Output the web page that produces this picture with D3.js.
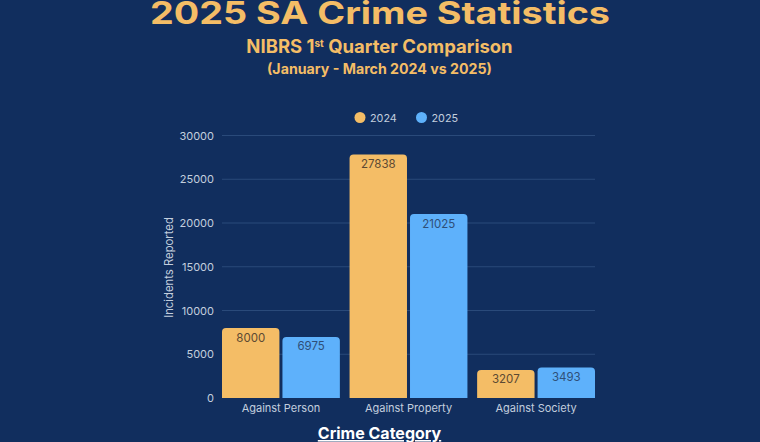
<!DOCTYPE html>
<html lang="en">
    <head>
        <meta charset="utf-8">
        <title>2025 SA Crime Statistics</title>
        <script src="https://cdn.jsdelivr.net/npm/d3@7"></script>
        <style>
            html, body { margin: 0; padding: 0; background: #112e5e; overflow: hidden; }
            svg { display: block; }
            text { font-family: Inter, "Noto Sans", sans-serif; }
            .axis path { display: none; }
            .axis line { stroke: none; }
            .axis text { fill: #c3cede; font-size: 11px; }
        </style>
    </head>
    <body>
        <script>
            var w = 760;
            var h = 442;

            var categories = ["Against Person", "Against Property", "Against Society"];
            var years = ["2024", "2025"];
            var values2024 = [8000, 27838, 3207];
            var values2025 = [6975, 21025, 3493];
            var yTicks = [0, 5000, 10000, 15000, 20000, 25000, 30000];

            var gold = "#f4bd66";
            var blue = "#5eb1fb";
            var barColors = d3.scaleOrdinal().domain(years).range([gold, blue]);

            var svg = d3.select("body").append("svg").attr("width", w).attr("height", h);

            // Headings
            svg.append("text").attr("x", 380).attr("y", 23.5).attr("text-anchor", "middle")
               .attr("fill", gold).attr("font-size", 31).attr("font-weight", 700)
               .attr("textLength", 460).attr("lengthAdjust", "spacingAndGlyphs")
               .text("2025 SA Crime Statistics");

            var sub = svg.append("text").attr("x", 379.5).attr("y", 52.5).attr("text-anchor", "middle")
               .attr("fill", gold).attr("font-size", 18.5).attr("font-weight", 700);
            sub.append("tspan").text("NIBRS 1");
            sub.append("tspan").attr("dy", -6).attr("font-size", 10).text("st");
            sub.append("tspan").attr("dy", 6).text(" Quarter Comparison");

            svg.append("text").attr("x", 379.5).attr("y", 73.5).attr("text-anchor", "middle")
               .attr("fill", gold).attr("font-size", 14.2).attr("font-weight", 700)
               .text("(January - March 2024 vs 2025)");

            // Scales
            var x0 = d3.scaleBand().domain(categories).range([222, 595]).paddingInner(0.076);
            var x1 = d3.scaleBand().domain(years).range([0, x0.bandwidth()]).paddingInner(0.05);
            var y = d3.scaleLinear().domain([0, 30000]).range([398, 135.5]);

            // Gridlines
            svg.append("g").selectAll("line").data(yTicks.slice(1)).enter().append("line")
               .attr("x1", 222).attr("x2", 595)
               .attr("y1", function (d) { return y(d); })
               .attr("y2", function (d) { return y(d); })
               .attr("stroke", "#2a4a7a").attr("stroke-width", 1);

            // Axes
            svg.append("g").attr("class", "axis").attr("transform", "translate(222,0)")
               .call(d3.axisLeft(y).tickValues(yTicks).tickFormat(d3.format("d")).tickSize(0).tickPadding(8));
            svg.append("g").attr("class", "axis").attr("transform", "translate(0,398)")
               .call(d3.axisBottom(x0).tickSize(0).tickPadding(6));

            // Bars, rounded on top only
            function barPath(d) {
                var left = x0(d.category) + x1(d.year);
                var right = left + x1.bandwidth();
                var top = y(d.value);
                var r = 4;
                var p = d3.path();
                p.moveTo(left, y(0));
                p.lineTo(left, top + r);
                p.quadraticCurveTo(left, top, left + r, top);
                p.lineTo(right - r, top);
                p.quadraticCurveTo(right, top, right, top + r);
                p.lineTo(right, y(0));
                p.closePath();
                return p.toString();
            }

            var bars = [];
            categories.forEach(function (c, i) {
                bars.push({category: c, year: years[0], value: values2024[i]});
                bars.push({category: c, year: years[1], value: values2025[i]});
            });

            svg.append("g").selectAll("path").data(bars).enter().append("path")
               .attr("d", barPath)
               .attr("fill", function (d) { return barColors(d.year); });

            svg.append("g").selectAll("text").data(bars).enter().append("text")
               .attr("x", function (d) { return x0(d.category) + x1(d.year) + x1.bandwidth() / 2; })
               .attr("y", function (d) { return y(d.value) + 13.5; })
               .attr("text-anchor", "middle").attr("font-size", 11.5)
               .attr("fill", function (d) { return d.year === "2024" ? "#5c4a33" : "#2f4f78"; })
               .text(function (d) { return d.value; });

            // Legend
            var legendX = d3.scaleOrdinal().domain(years).range([360, 421.5]);
            var legend = svg.append("g").selectAll("g").data(years).enter().append("g")
               .attr("transform", function (d) { return "translate(" + legendX(d) + ",117.5)"; });
            legend.append("circle").attr("r", 5.5).attr("fill", function (d) { return barColors(d); });
            legend.append("text").attr("x", 10).attr("y", 4).attr("font-size", 10.8)
               .attr("fill", "#c3cede").text(function (d) { return d; });

            // Axis titles
            svg.append("text").attr("transform", "translate(173,267.5) rotate(-90)")
               .attr("text-anchor", "middle").attr("font-size", 11.3).attr("fill", "#c3cede")
               .text("Incidents Reported");

            svg.append("text").attr("x", 379.5).attr("y", 439).attr("text-anchor", "middle")
               .attr("font-size", 16).attr("font-weight", 700).attr("fill", "#ffffff")
               .attr("text-decoration", "underline").text("Crime Category");
        </script>
    </body>
</html>
